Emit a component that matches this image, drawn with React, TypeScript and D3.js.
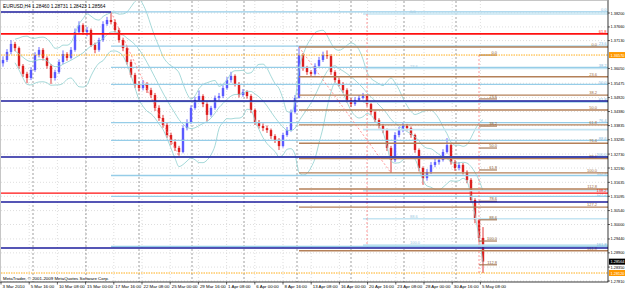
import React from "react";
import * as d3 from "d3";

const W = 625;
const H = 290;

const title = "EURUSD,H4  1.28460 1.28731 1.28423 1.28564";
const copyright = "MetaTrader, \u00a9 2001-2009 MetaQuotes Software Corp.";

const firstOpen = 1.3625;
const closes = [
  1.3638, 1.3669, 1.3700, 1.3684, 1.3615, 1.3584, 1.3568, 1.3599, 1.3657, 1.3677,
  1.3646, 1.3615, 1.3568, 1.3591, 1.3630, 1.3661, 1.3646, 1.3677, 1.3746, 1.3773,
  1.3746, 1.3754, 1.3696, 1.3677, 1.3715, 1.3777, 1.3793, 1.3785, 1.3754, 1.3715,
  1.3684, 1.3630, 1.3580, 1.3541, 1.3529, 1.3545, 1.3521, 1.3502, 1.3452, 1.3413,
  1.3386, 1.3347, 1.3320, 1.3297, 1.3281, 1.3374, 1.3397, 1.3452, 1.3483, 1.3498,
  1.3467, 1.3425, 1.3452, 1.3491, 1.3498, 1.3529, 1.3560, 1.3576, 1.3545, 1.3502,
  1.3514, 1.3498, 1.3444, 1.3397, 1.3382, 1.3374, 1.3366, 1.3343, 1.3328, 1.3304,
  1.3347, 1.3366, 1.3436, 1.3491, 1.3657, 1.3607, 1.3591, 1.3584, 1.3615, 1.3638,
  1.3657, 1.3653, 1.3591, 1.3560, 1.3545, 1.3521, 1.3483, 1.3467, 1.3483, 1.3491,
  1.3498, 1.3467, 1.3436, 1.3405, 1.3382, 1.3366, 1.3297, 1.3250, 1.3347, 1.3366,
  1.3382, 1.3374, 1.3347, 1.3289, 1.3219, 1.3180, 1.3204, 1.3231, 1.3242, 1.3250,
  1.3281, 1.3308, 1.3242, 1.3219, 1.3231, 1.3204, 1.3173, 1.3095, 1.3018, 1.2948, 1.2856,
];
const highs = [
  1.3652, 1.3680, 1.3715, 1.3708, 1.3690, 1.3622, 1.3592, 1.3610, 1.3668, 1.3688,
  1.3684, 1.3652, 1.3622, 1.3600, 1.3640, 1.3675, 1.3668, 1.3688, 1.3760, 1.3788,
  1.3780, 1.3766, 1.3760, 1.3705, 1.3724, 1.3788, 1.3805, 1.3820, 1.3795, 1.3762,
  1.3722, 1.3692, 1.3640, 1.3588, 1.3556, 1.3560, 1.3552, 1.3530, 1.3510, 1.3462,
  1.3425, 1.3395, 1.3356, 1.3330, 1.3305, 1.3385, 1.3408, 1.3462, 1.3495, 1.3520,
  1.3505, 1.3474, 1.3460, 1.3500, 1.3510, 1.3540, 1.3572, 1.3592, 1.3582, 1.3552,
  1.3525, 1.3520, 1.3505, 1.3450, 1.3405, 1.3392, 1.3384, 1.3372, 1.3350, 1.3335,
  1.3356, 1.3378, 1.3446, 1.3502, 1.3692, 1.3665, 1.3615, 1.3598, 1.3625, 1.3650,
  1.3670, 1.3675, 1.3660, 1.3598, 1.3570, 1.3552, 1.3528, 1.3490, 1.3494, 1.3502,
  1.3510, 1.3505, 1.3474, 1.3442, 1.3412, 1.3390, 1.3372, 1.3305, 1.3358, 1.3378,
  1.3397, 1.3390, 1.3380, 1.3352, 1.3295, 1.3225, 1.3215, 1.3242, 1.3255, 1.3262,
  1.3292, 1.3335, 1.3315, 1.3250, 1.3242, 1.3238, 1.3210, 1.3180, 1.3102, 1.3025, 1.2990,
];
const lows = [
  1.3612, 1.3630, 1.3660, 1.3672, 1.3604, 1.3572, 1.3548, 1.3560, 1.3592, 1.3648,
  1.3636, 1.3604, 1.3545, 1.3558, 1.3584, 1.3622, 1.3635, 1.3640, 1.3670, 1.3738,
  1.3735, 1.3730, 1.3688, 1.3664, 1.3670, 1.3708, 1.3770, 1.3776, 1.3745, 1.3705,
  1.3672, 1.3620, 1.3570, 1.3530, 1.3516, 1.3520, 1.3510, 1.3490, 1.3440, 1.3402,
  1.3375, 1.3336, 1.3308, 1.3285, 1.3267, 1.3276, 1.3365, 1.3390, 1.3445, 1.3478,
  1.3455, 1.3400, 1.3418, 1.3445, 1.3482, 1.3490, 1.3522, 1.3550, 1.3535, 1.3492,
  1.3495, 1.3488, 1.3432, 1.3386, 1.3372, 1.3362, 1.3355, 1.3332, 1.3316, 1.3289,
  1.3298, 1.3340, 1.3360, 1.3430, 1.3488, 1.3596, 1.3580, 1.3572, 1.3578, 1.3608,
  1.3630, 1.3642, 1.3580, 1.3550, 1.3535, 1.3510, 1.3472, 1.3455, 1.3460, 1.3476,
  1.3485, 1.3458, 1.3425, 1.3395, 1.3372, 1.3354, 1.3285, 1.3200, 1.3242, 1.3338,
  1.3358, 1.3364, 1.3336, 1.3278, 1.3206, 1.3154, 1.3170, 1.3196, 1.3222, 1.3232,
  1.3244, 1.3275, 1.3232, 1.3208, 1.3210, 1.3194, 1.3160, 1.3085, 1.3005, 1.2930, 1.2812,
];

const priceTicks = [
  1.382, 1.3766, 1.3713, 1.3605, 1.35475, 1.3492, 1.3438, 1.33835, 1.33285, 1.3273,
  1.3219, 1.31635, 1.31095, 1.3054, 1.3, 1.2944, 1.289, 1.2835, 1.2781,
];
const timeLabels = [
  "3 Mar 2010", "5 Mar 16:00", "10 Mar 08:00", "15 Mar 00:00", "17 Mar 16:00", "22 Mar 08:00",
  "25 Mar 00:00", "29 Mar 16:00", "1 Apr 08:00", "6 Apr 00:00", "8 Apr 16:00", "13 Apr 08:00",
  "16 Apr 00:00", "20 Apr 16:00", "23 Apr 08:00", "28 Apr 00:00", "30 Apr 16:00", "5 May 08:00",
];
// bar positions (candle index units) of the weekly period separators
const weekStarts = [7.5, 20.75, 34, 47.25, 60.25, 73.5, 87, 100.25, 113.25];

const navyTop = { p: 1.3824, toIndex: 27 };
const navyLevels = [1.3479, 1.3262, 1.3087, 1.2909];
const redLevels = [1.3739, 1.3122];
const redLabels = ["61.8", "138.2"];
const orangeLevels = [1.3657, 1.2812];
const orangeLabels = ["1.36570", "1.28120"];
const bidLabel = "1.28564";

const fibRatios = [0, 0.236, 0.382, 0.5, 0.618, 0.764, 0.886, 1, 1.128, 1.272, 1.618];
const fib1 = { i0: 27, i1: 44, p0: 1.3824, p1: 1.3262 };
const fib2 = { i0: 74, i1: 97, p0: 1.3688, p1: 1.32 };
const fib3Ratios = [0, 0.236, 0.382, 0.5, 0.618, 0.764, 0.886, 1];
const fib3 = { i0: 90, i1: 91, p0: 1.3816, p1: 1.292 };
const fib4Ratios = [0, 0.236, 0.382, 0.5, 0.618, 0.786, 0.886, 1, 1.128];
const fib4 = { i0: 119, i1: 123.5, p0: 1.3657, p1: 1.2936, pEnd: 1.2805 };

const FONT = "'Liberation Sans', Arial, sans-serif";
const fmtR = (r: number) => (r * 100).toFixed(1);

export default function App() {
  const left = 1, right = 608, top = 1, bottom = 282;
  const x = d3.scaleLinear().domain([0, 120]).range([3, 483]);
  const y = d3.scaleLinear().domain([1.2781, 1.382]).range([281, 13]);

  const opens = closes.map((c, i) => (i === 0 ? firstOpen : closes[i - 1]));

  // Bollinger bands (20 H4 bars = 10 drawn candles), deviation 2
  const period = 10;
  const bb = closes
    .map((c, i) => {
      if (i < 3) return null;
      const w = closes.slice(Math.max(0, i - period + 1), i + 1);
      const m = d3.mean(w) as number;
      const sd = Math.sqrt(d3.mean(w.map((v) => (v - m) ** 2)) as number);
      return { i, m, up: m + 2 * sd, lo: m - 2 * sd };
    })
    .filter(Boolean) as { i: number; m: number; up: number; lo: number }[];
  const bbLine = (key: "m" | "up" | "lo") =>
    d3
      .line<{ i: number; m: number; up: number; lo: number }>()
      .x((d) => x(d.i))
      .y((d) => y(d[key]))
      .curve(d3.curveMonotoneX)(bb) as string;

  const timeTickIdx = timeLabels.map((_, k) => k * 7.05 - 0.5);

  const fibLines = (
    f: { i0: number; p0: number; p1: number },
    ratios: number[],
    color: string,
    sw: number,
    labelColor: string,
    key: string,
    labelX: number | null
  ) =>
    ratios.map((r) => {
      const p = f.p0 + (f.p1 - f.p0) * r;
      return (
        <g key={key + r}>
          <line x1={x(f.i0)} x2={right} y1={y(p)} y2={y(p)} stroke={color} strokeWidth={sw} />
          {labelX !== null && (
            <text x={labelX} y={y(p) - 0.8} fontSize={4} fill={labelColor} textAnchor="end" fontFamily={FONT}>
              {fmtR(r)}
            </text>
          )}
        </g>
      );
    });

  const axisText = (key: string, py: number, label: string, fill: string) => (
    <text
      key={key}
      x={right + 2.5}
      y={py + 1.5}
      fontSize={4.1}
      fill={fill}
      fontFamily={FONT}
      textLength={14}
      lengthAdjust="spacingAndGlyphs"
    >
      {label}
    </text>
  );

  return (
    <svg width={W} height={H} style={{ display: "block", position: "absolute", left: 0, top: 0 }}>
      <defs>
        <clipPath id="plot">
          <rect x={left} y={top} width={right - left} height={bottom - top} />
        </clipPath>
      </defs>
      <rect x={0} y={0} width={W} height={H} fill="#ffffff" />

      {/* grid */}
      <g stroke="#c8c8c8" strokeWidth={0.6} strokeDasharray="1,2">
        {priceTicks.map((p) => (
          <line key={"hg" + p} x1={left} x2={right} y1={y(p)} y2={y(p)} />
        ))}
        {timeTickIdx.slice(1).map((t) => (
          <line key={"vg" + t} x1={x(t)} x2={x(t)} y1={top} y2={bottom} />
        ))}
      </g>
      <g stroke="#777777" strokeWidth={0.7} strokeDasharray="2,2">
        {weekStarts.map((t) => (
          <line key={"ws" + t} x1={x(t)} x2={x(t)} y1={top} y2={bottom} />
        ))}
      </g>

      <g clipPath="url(#plot)">
        {/* candles */}
        {closes.map((c, i) => {
          const o = opens[i];
          const up = c >= o;
          const col = up ? "#5a5aff" : "#dd2020";
          const yt = y(Math.max(o, c));
          const yb = y(Math.min(o, c));
          return (
            <g key={"c" + i}>
              <line x1={x(i)} x2={x(i)} y1={y(highs[i])} y2={y(lows[i])} stroke={col} strokeWidth={0.9} />
              <rect x={x(i) - 1.2} y={yt} width={2.4} height={Math.max(0.8, yb - yt)} fill={col} />
            </g>
          );
        })}

        {/* Bollinger bands */}
        <g fill="none" stroke="#8fcfcf" strokeWidth={0.8}>
          <path d={bbLine("up")} />
          <path d={bbLine("m")} />
          <path d={bbLine("lo")} />
        </g>

        {/* fibo objects */}
        {fibLines(fib3, fib3Ratios, "#c4e4f2", 1.6, "#9cc8e0", "f3", null)}
        {fibLines(fib1, fibRatios, "#96cde8", 1.3, "#7fb8dc", "f1", right - 1.5)}
        {fibLines(fib2, fibRatios, "#b48058", 1.4, "#a06a40", "f2", right - 11)}
        {fib4Ratios.map((r) => {
          const p = fib4.p0 + (fib4.p1 - fib4.p0) * r;
          return (
            <g key={"f4" + r}>
              <line x1={x(fib4.i0)} x2={x(fib4.i1)} y1={y(p)} y2={y(p)} stroke="#a0704a" strokeWidth={1.1} />
              <text x={x(fib4.i1)} y={y(p) - 0.8} fontSize={4} fill="#8a5a30" textAnchor="end" fontFamily={FONT}>
                {fmtR(r)}
              </text>
            </g>
          );
        })}
        {[0, 0.236, 0.886, 1].map((r) => {
          const p = fib3.p0 + (fib3.p1 - fib3.p0) * r;
          return (
            <text key={"f3l" + r} x={410} y={y(p) - 0.8} fontSize={4} fill="#9cc8e0" fontFamily={FONT}>
              {fmtR(r)}
            </text>
          );
        })}

        {/* trend lines of the fibo objects */}
        <g stroke="#ff7f7f" strokeWidth={0.8} strokeDasharray="2,2" fill="none">
          <line x1={x(fib1.i0)} y1={y(fib1.p0)} x2={x(fib1.i1)} y2={y(fib1.p1)} />
          <line x1={x(fib2.i0)} y1={y(fib2.p0)} x2={x(fib2.i1)} y2={y(fib2.p1)} />
          <line x1={x(fib3.i1)} y1={y(fib3.p0)} x2={x(fib3.i1)} y2={y(fib3.p1)} />
          <line x1={x(fib4.i0)} y1={y(fib4.p0)} x2={x(fib4.i0)} y2={y(fib4.pEnd)} />
        </g>

        {/* horizontal lines */}
        <line x1={left} x2={x(navyTop.toIndex)} y1={y(navyTop.p)} y2={y(navyTop.p)} stroke="#1c1c9c" strokeWidth={1.4} />
        {navyLevels.map((p) => (
          <line key={"n" + p} x1={left} x2={right} y1={y(p)} y2={y(p)} stroke="#1c1c9c" strokeWidth={1.4} />
        ))}
        {redLevels.map((p, k) => (
          <g key={"r" + p}>
            <line x1={left} x2={right} y1={y(p)} y2={y(p)} stroke="#ff1010" strokeWidth={k === 0 ? 1.8 : 1.2} />
            <text x={right - 1.5} y={y(p) - 1.2} fontSize={4} fill="#ff1010" textAnchor="end" fontFamily={FONT}>
              {redLabels[k]}
            </text>
          </g>
        ))}
        {orangeLevels.map((p) => (
          <line key={"o" + p} x1={left} x2={right} y1={y(p)} y2={y(p)} stroke="#ffa500" strokeWidth={0.9} strokeDasharray="1.5,1" />
        ))}

        {/* texts inside plot */}
        <text x={3} y={7.5} fontSize={4.8} fill="#000" fontFamily={FONT}>
          {title}
        </text>
        <rect x={2} y={275} width={108} height={6} fill="#ffffff" />
        <text x={3} y={280} fontSize={4.4} fill="#000" fontFamily={FONT}>
          {copyright}
        </text>
      </g>

      {/* frame */}
      <line x1={right} x2={right} y1={0} y2={bottom} stroke="#000" strokeWidth={0.8} />
      <line x1={0} x2={right} y1={bottom} y2={bottom} stroke="#000" strokeWidth={0.8} />
      <rect x={0.5} y={0.5} width={right} height={bottom} fill="none" stroke="#a0a0a0" strokeWidth={0.6} />

      {/* price axis */}
      {priceTicks.map((p) => (
        <g key={"pt" + p}>
          <line x1={right} x2={right + 2} y1={y(p)} y2={y(p)} stroke="#000" strokeWidth={0.6} />
          {axisText("ptt" + p, y(p), p.toFixed(5), "#000")}
        </g>
      ))}
      {orangeLevels.map((p, k) => (
        <g key={"ob" + p}>
          <rect x={right + 1} y={y(p) - 3} width={W - right - 1} height={6} fill="#ff9900" />
          {axisText("obt" + p, y(p), orangeLabels[k], "#ffffff")}
        </g>
      ))}
      <rect x={right + 1} y={y(closes[closes.length - 1]) - 3} width={W - right - 1} height={6} fill="#000" />
      {axisText("bid", y(closes[closes.length - 1]), bidLabel, "#ffffff")}

      {/* time axis */}
      {timeLabels.map((t, k) => (
        <g key={"tl" + k}>
          <line x1={x(timeTickIdx[k])} x2={x(timeTickIdx[k])} y1={bottom} y2={bottom + 2.5} stroke="#000" strokeWidth={0.6} />
          <text x={x(timeTickIdx[k]) + 1.5} y={288} fontSize={4.4} fill="#000" fontFamily={FONT}>
            {t}
          </text>
        </g>
      ))}
    </svg>
  );
}
